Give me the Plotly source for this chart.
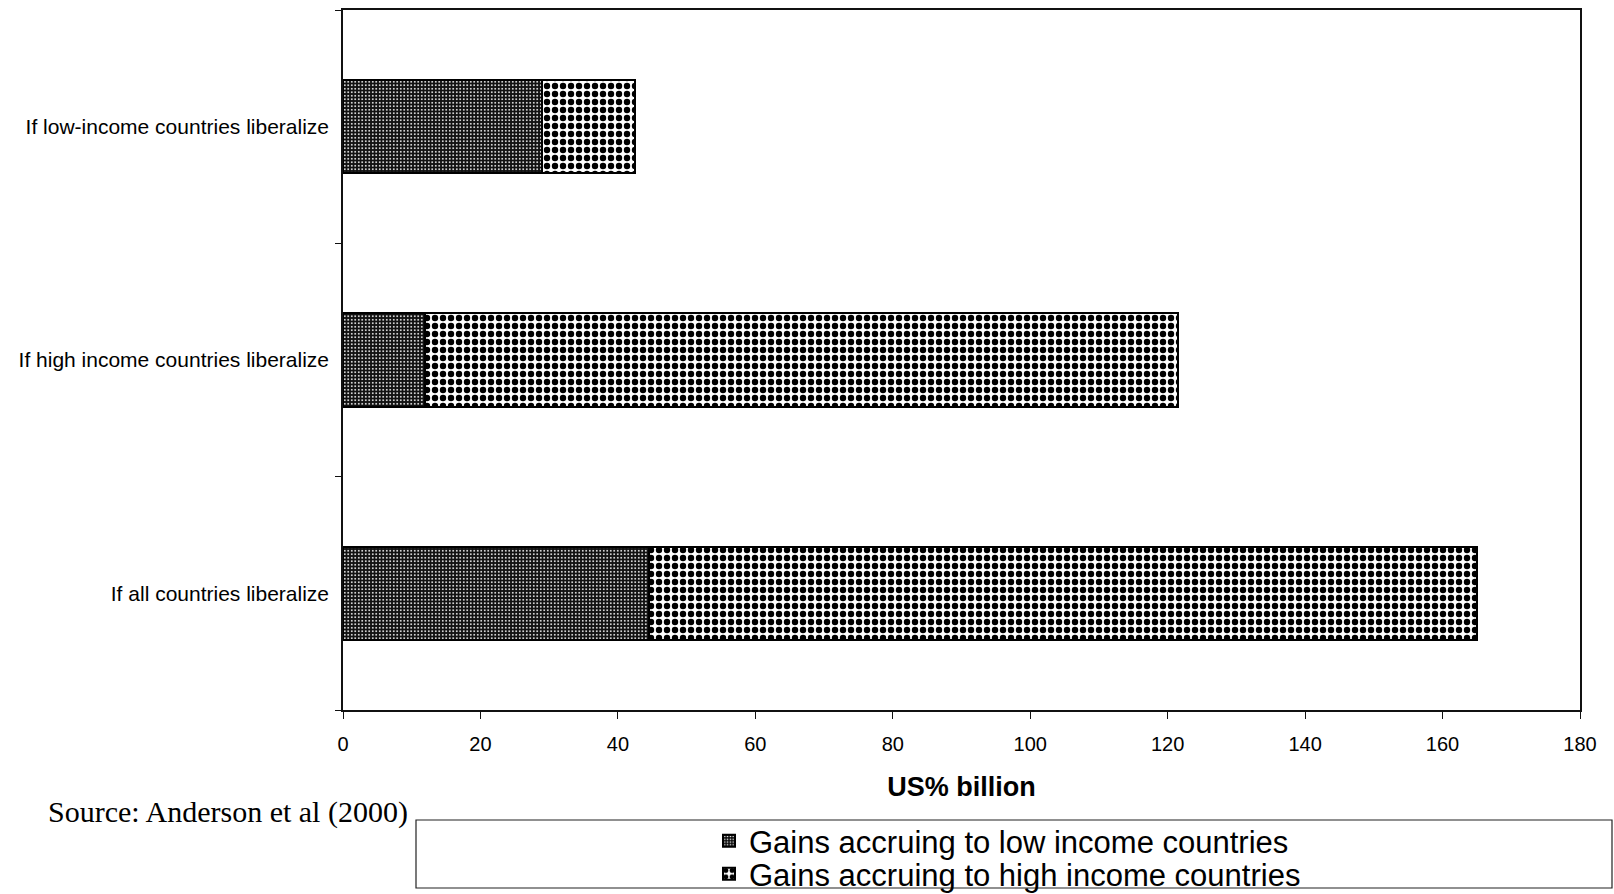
import plotly.graph_objects as go

categories = [
    "If all countries liberalize",
    "If high income countries liberalize",
    "If low-income countries liberalize",
]
gains_low_income = [44.5, 12, 29]
gains_high_income = [120.5, 109.5, 13.5]
series_names = [
    "Gains accruing to low income countries",
    "Gains accruing to high income countries",
]
x_ticks = [0, 20, 40, 60, 80, 100, 120, 140, 160, 180]

W, H = 1614, 894
L, R, T, B = 343, 34, 10, 184
pw, ph = W - L - R, H - T - B


def px(xp):
    return (xp - L) / pw


def py(yp):
    return (H - B - yp) / ph


def cy(yp):
    return (H - yp) / H


def cx(xp):
    return xp / W


fig = go.Figure()
fig.add_trace(go.Bar(
    y=categories, x=gains_low_income, orientation="h", name=series_names[0],
    marker=dict(color="black", line=dict(color="black", width=2),
                pattern=dict(shape=".", bgcolor="#111", fgcolor="white",
                             size=3.5, solidity=0.22, fillmode="replace")),
    legend="legend", showlegend=True,
))
fig.add_trace(go.Bar(
    y=categories, x=gains_high_income, orientation="h", name=series_names[1],
    marker=dict(color="white", line=dict(color="black", width=2),
                pattern=dict(shape=".", bgcolor="white", fgcolor="black",
                             size=8, solidity=0.5, fillmode="replace")),
    legend="legend2", showlegend=True,
))

font_sans = "Liberation Sans, Arial, sans-serif"
leg_common = dict(xref="container", yref="container", xanchor="left", yanchor="middle",
                  bgcolor="rgba(0,0,0,0)", font=dict(size=31, family=font_sans),
                  borderwidth=0, visible=True)
fig.update_layout(
    width=W, height=H,
    margin=dict(l=L, r=R, t=T, b=B, autoexpand=False),
    barmode="stack", bargap=0.6,
    paper_bgcolor="white", plot_bgcolor="white",
    font=dict(family=font_sans, color="black", size=20),
    showlegend=True,
    legend=dict(x=cx(709), y=cy(841), **leg_common),
    legend2=dict(x=cx(709), y=cy(874), **leg_common),
    xaxis=dict(range=[0, 180], tickvals=x_ticks, ticktext=[str(v) for v in x_ticks],
               showgrid=False, zeroline=False, showline=True, mirror=True,
               linecolor="#111", linewidth=1.5, ticks="outside", ticklen=7,
               tickcolor="#111", tickfont=dict(size=20), ticklabelstandoff=8,
               automargin=False,
               title=dict(text="<b>US% billion</b>", font=dict(size=27), standoff=23)),
    yaxis=dict(showgrid=False, zeroline=False, showline=True, mirror=True,
               linecolor="#111", linewidth=1.5, ticks="outside", ticklen=6,
               tickcolor="#111", tickson="boundaries", tickfont=dict(size=21),
               ticklabelstandoff=8, automargin=False),
    shapes=[dict(type="rect", xref="paper", yref="paper",
                 x0=px(416), x1=px(1612), y0=py(888), y1=py(820),
                 line=dict(color="#222", width=1.2), fillcolor="rgba(0,0,0,0)")],
    annotations=[dict(text="Source: Anderson et al (2000)", xref="paper", yref="paper",
                      x=px(46), y=py(812), xanchor="left", yanchor="middle",
                      showarrow=False,
                      font=dict(family="Liberation Serif, Times New Roman, serif", size=30))],
)

fig.write_html("out.html")
